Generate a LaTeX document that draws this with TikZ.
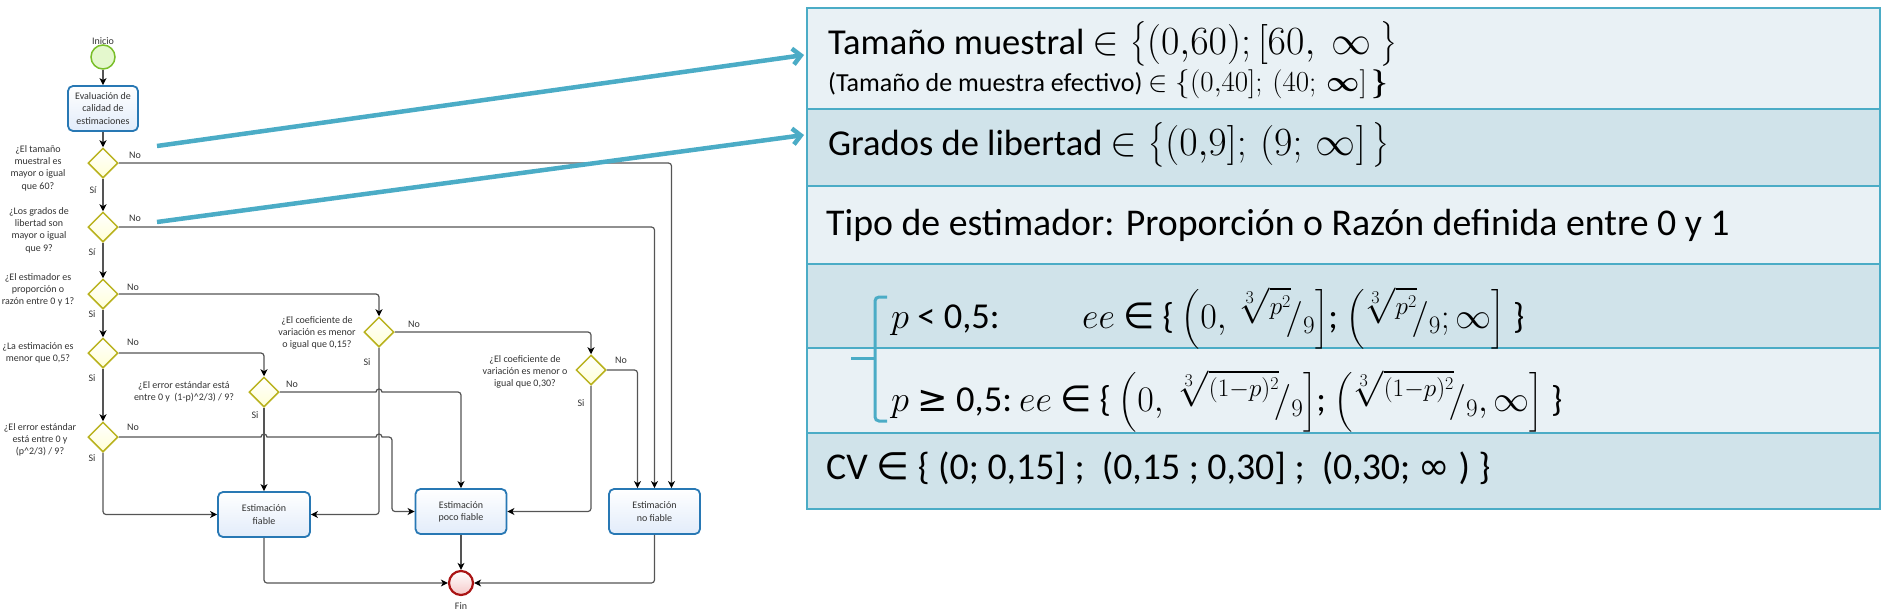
\RequirePackage{fix-cm}
\documentclass[tikz,border=0pt]{standalone}
\usepackage{amsmath}
\usepackage[no-math]{fontspec}
\setmainfont{Carlito}
\newfontfamily\symf{DejaVu Sans}
\usetikzlibrary{shapes.geometric,arrows.meta,calc}
\definecolor{tealb}{RGB}{75,172,198}
\definecolor{rowl}{RGB}{233,241,245}
\definecolor{rowd}{RGB}{208,227,234}
\definecolor{dmdcol}{RGB}{185,178,30}
\definecolor{dmdfill}{RGB}{255,255,215}
\definecolor{boxcol}{RGB}{40,120,180}
\definecolor{boxfill}{RGB}{226,236,250}
\definecolor{conncol}{RGB}{85,85,85}
\definecolor{txtcol}{RGB}{50,50,50}
\definecolor{startcol}{RGB}{120,190,40}
\definecolor{startfill}{RGB}{228,248,205}
\definecolor{endcol}{RGB}{170,20,20}
\definecolor{endfill}{RGB}{245,200,200}
\newcommand{\rfrac}[1]{{}^{#1}\!/_{9}}
\newcommand{\mbig}[1]{{\fontsize{40}{44}\selectfont #1}}
\newcommand{\mmid}[1]{{\fontsize{29}{32}\selectfont #1}}
\begin{document}
\begin{tikzpicture}[x=1pt,y=-1pt,
  lbl/.style={font=\fontsize{10}{12.3}\selectfont, text=txtcol, inner sep=0, align=center},
  dmdnode/.style={diamond, draw=dmdcol, line width=1.5pt, top color=white, bottom color=dmdfill, minimum width=30pt, minimum height=30pt, inner sep=0},
  taskbox/.style={rounded corners=5pt, draw=boxcol, line width=1.8pt, top color=white, bottom color=boxfill, minimum width=91pt, minimum height=45pt, align=center, font=\fontsize{10}{12.3}\selectfont, text=txtcol, inner sep=0},
  conn/.style={draw=conncol, line width=1.2pt, rounded corners=3pt},
  arr/.style={conn, -{Stealth[length=7pt,width=7pt,inset=2pt,color=black]}},
  hop/.style={start angle=180, end angle=360, radius=3},
  rowbox/.style={draw=tealb, line width=2pt, minimum width=1073pt, anchor=north west, inner sep=0},
  bigt/.style={font=\fontsize{36.5}{44}\selectfont, inner sep=0, anchor=base west, text=black},
  bigu/.style={font=\fontsize{37.8}{44}\selectfont, inner sep=0, anchor=base west, text=black},
  fmt/.style={font=\fontsize{36}{44}\selectfont, inner sep=0, anchor=base west, text=black},
  midt/.style={font=\fontsize{26}{30}\selectfont, inner sep=0, anchor=base west, text=black},
  bluearr/.style={draw=tealb, line width=4.5pt, -{Straight Barb[length=8pt,width=16pt]}}
]
\path[use as bounding box] (0,0) rectangle (1883,616);

% ---------- flow chart ----------
\node[circle, draw=startcol, line width=1.5pt, fill=startfill, minimum size=24pt, inner sep=0] (start) at (103,57) {};
\node[lbl] (inicio) at (103,41) {Inicio};
\node[taskbox, minimum width=70pt] (eval) at (103,108.5) {Evaluación de\\calidad de\\estimaciones};

\node[dmdnode] (d1) at (103,163) {};
\node[dmdnode] (d2) at (103,227) {};
\node[dmdnode] (d3) at (103,294) {};
\node[dmdnode] (d4) at (103,353) {};
\node[dmdnode] (d5) at (103,437) {};
\node[dmdnode] (d6) at (264,392) {};
\node[dmdnode] (d7) at (379,332) {};
\node[dmdnode] (d8) at (591,370) {};

\node[lbl] (q1) at (38,168) {¿El tamaño\\muestral es\\mayor o igual\\que 60?};
\node[lbl] (q2) at (39,230) {¿Los grados de\\libertad son\\mayor o igual\\que 9?};
\node[lbl] (q3) at (38,290) {¿El estimador es\\proporción o\\razón entre 0 y 1?};
\node[lbl] (q4) at (38,352.5) {¿La estimación es\\menor que 0,5?};
\node[lbl] (q5) at (40,440) {¿El error estándar\\está entre 0 y\\(p\textasciicircum 2/3) / 9?};
\node[lbl] (q6) at (184,392) {¿El error estándar está\\entre 0 y\ \ (1-p)\textasciicircum 2/3) / 9?};
\node[lbl] (q7) at (317,333) {¿El coeficiente de\\variación es menor\\o igual que 0,15?};
\node[lbl] (q8) at (525,372) {¿El coeficiente de\\variación es menor o\\igual que 0,30?};

\node[taskbox, minimum width=92pt] (fiable) at (264,514.5) {Estimación\\fiable};
\node[taskbox] (poco) at (461,511.5) {Estimación\\poco fiable};
\node[taskbox] (nofiable) at (654.5,511.5) {Estimación\\no fiable};
\node[circle, draw=endcol, line width=2.2pt, top color=white, bottom color=endfill, minimum size=24pt, inner sep=0] (fin) at (461,583) {};
\node[lbl] (finl) at (461,606) {Fin};

% yes / no labels
\node[lbl] at (135,155) {No};  \node[lbl] at (93,190) {Sí};
\node[lbl] at (135,218) {No};  \node[lbl] at (92,252) {Sí};
\node[lbl] at (133,287) {No};  \node[lbl] at (92,314) {Si};
\node[lbl] at (133,342) {No};  \node[lbl] at (92,378) {Si};
\node[lbl] at (133,427) {No};  \node[lbl] at (92,458) {Si};
\node[lbl] at (292,384) {No};  \node[lbl] at (255,415) {Si};
\node[lbl] at (414,324) {No};  \node[lbl] at (367,362) {Si};
\node[lbl] at (621,360) {No};  \node[lbl] at (581,403) {Si};

% connectors
\draw[arr] (start.south) -- (eval.north);
\draw[arr] (eval.south) -- (d1.north);
\draw[arr] (d1.south) -- (d2.north);
\draw[arr] (d2.south) -- (d3.north);
\draw[arr] (d3.south) -- (d4.north);
\draw[arr] (d4.south) -- (d5.north);
\draw[arr] (d5.south) |- (fiable.west);
\draw[arr] (d6.south) -- (fiable.north);
\draw[arr] (d7.south) |- (fiable.east);
\draw[arr] (d4.east) -| (d6.north);
\draw[arr] (d3.east) -| (d7.north);
\draw[arr] (d7.east) -| (d8.north);
\draw[arr] (d8.south) |- (poco.east);
\draw[arr] (d8.east) -| ([xshift=-17pt]nofiable.north);
\draw[arr] (d2.east) -| (nofiable.north);
\draw[arr] (d1.east) -| ([xshift=17pt]nofiable.north);
\draw[arr, sharp corners] (d6.east) -- (376,392) arc[hop] [rounded corners=3pt] -| (poco.north);
\draw[arr, sharp corners] (d5.east) -- (261,437) arc[hop] -- (376,437) arc[hop] [rounded corners=3pt] -- (392,437) |- (poco.west);
\draw[arr] (fiable.south) |- (fin.west);
\draw[arr] (poco.south) -- (fin.north);
\draw[arr] (nofiable.south) |- (fin.east);

% ---------- table ----------
\node[rowbox, fill=rowl, minimum height=101pt] (row1) at (806,7) {};
\node[rowbox, fill=rowd, minimum height=77pt] (row2) at (806,108) {};
\node[rowbox, fill=rowl, minimum height=78pt] (row3) at (806,185) {};
\node[rowbox, fill=rowd, minimum height=84pt] (row4) at (806,263) {};
\node[rowbox, fill=rowl, minimum height=85pt] (row5) at (806,347) {};
\node[rowbox, fill=rowd, minimum height=76pt] (row6) at (806,432) {};

\node[bigt] (t1) at (828,54) {Tamaño muestral \mbig{$\in \bigl\{(0{,}60);[60,\ \infty\ \bigr\}$}};
\node[midt] (t1b) at (828,91) {(Tamaño de muestra efectivo) \mmid{$\in \{(0{,}40];\,(40;\,\boldsymbol{\infty}]\,\boldsymbol{\}}$}};
\node[bigt] (t2) at (828,155) {Grados de libertad \mbig{$\in \bigl\{(0{,}9];\,(9;\,\infty]\,\bigr\}$}};
\node[bigu] (t3) at (826,235) {Tipo de estimador: Proporción o Razón definida entre 0 y 1};
\node[bigt] (t4a) at (891,328) {$p$ < 0,5:};
\node[fmt] (t4b) at (1082,328) {$ee$ {\symf ∈} \{ $\left(0,\,\rfrac{\sqrt[3]{p^2}}\right]$; $\left(\rfrac{\sqrt[3]{p^2}};\infty\right]$ \}};
\node[bigt] (t5a) at (891,411) {$p$ {\symf ≥} 0,5:};
\node[fmt] (t5b) at (1019,411) {$ee$ {\symf ∈} \{ $\left(0,\ \rfrac{\sqrt[3]{(1-p)^2}}\right]$; $\left(\rfrac{\sqrt[3]{(1-p)^2}},\infty\right]$ \}};
\node[bigu] (t6) at (826,479) {CV {\symf ∈} \{ (0; 0,15] ;\ \ (0,15 ; 0,30] ;\ \ (0,30; {\symf ∞} ) \}};

\draw[tealb, line width=3pt, rounded corners=4pt] (887,297) -- (875,297) -- (875,421) -- (887,421);
\draw[tealb, line width=3pt] (875,358) -- (851,358);

% ---------- blue pointers ----------
\coordinate (b1s) at (157,146);
\coordinate (b1e) at ($(row1.north west)+(-2,48)$);
\coordinate (b2s) at (157,222);
\coordinate (b2e) at ($(row2.north west)+(-2,27)$);
\draw[bluearr] (b1s) -- (b1e);
\draw[bluearr] (b2s) -- (b2e);
\end{tikzpicture}
\end{document}
